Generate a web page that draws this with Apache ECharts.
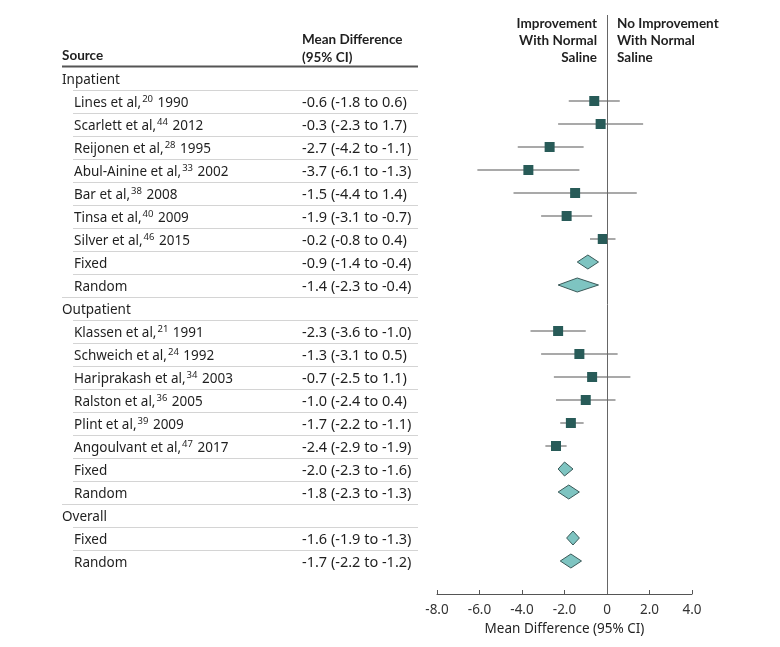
<!DOCTYPE html>
<html>
<head>
<meta charset="utf-8">
<script src="https://cdn.jsdelivr.net/npm/echarts@6/dist/echarts.min.js"></script>
<style>
html,body{margin:0;padding:0;background:#fff;}
#chart{width:780px;height:647px;}
</style>
</head>
<body>
<div id="chart"></div>
<script>
// ---------- DATA ----------
const sectionNames = ['Inpatient', 'Outpatient', 'Overall'];

const inpatientStudies = ['Lines et al,', 'Scarlett et al,', 'Reijonen et al,', 'Abul-Ainine et al,', 'Bar et al,', 'Tinsa et al,', 'Silver et al,'];
const inpatientRefs = ['20', '44', '28', '33', '38', '40', '46'];
const inpatientYears = ['1990', '2012', '1995', '2002', '2008', '2009', '2015'];
const inpatientMD = [-0.6, -0.3, -2.7, -3.7, -1.5, -1.9, -0.2];
const inpatientLo = [-1.8, -2.3, -4.2, -6.1, -4.4, -3.1, -0.8];
const inpatientHi = [0.6, 1.7, -1.1, -1.3, 1.4, -0.7, 0.4];

const outpatientStudies = ['Klassen et al,', 'Schweich et al,', 'Hariprakash et al,', 'Ralston et al,', 'Plint et al,', 'Angoulvant et al,'];
const outpatientRefs = ['21', '24', '34', '36', '39', '47'];
const outpatientYears = ['1991', '1992', '2003', '2005', '2009', '2017'];
const outpatientMD = [-2.3, -1.3, -0.7, -1.0, -1.7, -2.4];
const outpatientLo = [-3.6, -3.1, -2.5, -2.4, -2.2, -2.9];
const outpatientHi = [-1.0, 0.5, 1.1, 0.4, -1.1, -1.9];

const pooledLabels = ['Fixed', 'Random'];
const inpatientPooledMD = [-0.9, -1.4];
const inpatientPooledLo = [-1.4, -2.3];
const inpatientPooledHi = [-0.4, -0.4];
const outpatientPooledMD = [-2.0, -1.8];
const outpatientPooledLo = [-2.3, -2.3];
const outpatientPooledHi = [-1.6, -1.3];
const overallPooledMD = [-1.6, -1.7];
const overallPooledLo = [-1.9, -2.2];
const overallPooledHi = [-1.3, -1.2];

const xTicks = [-8, -6, -4, -2, 0, 2, 4];
const xAxisTitle = 'Mean Difference (95% CI)';
const leftHeader = ['Improvement', 'With Normal', 'Saline'];
const rightHeader = ['No Improvement', 'With Normal', 'Saline'];
const colHeaderSource = 'Source';
const colHeaderMD = ['Mean Difference', '(95% CI)'];

// ---------- BUILD ROWS ----------
const rows = [];
function addSection(name, studies, refs, years, md, lo, hi, pmd, plo, phi) {
  rows.push({ type: 'section', label: name });
  for (let i = 0; i < studies.length; i++) {
    rows.push({ type: 'study', label: studies[i], ref: refs[i], year: years[i], md: md[i], lo: lo[i], hi: hi[i] });
  }
  for (let i = 0; i < pooledLabels.length; i++) {
    rows.push({ type: 'pooled', label: pooledLabels[i], md: pmd[i], lo: plo[i], hi: phi[i] });
  }
}
addSection(sectionNames[0], inpatientStudies, inpatientRefs, inpatientYears, inpatientMD, inpatientLo, inpatientHi, inpatientPooledMD, inpatientPooledLo, inpatientPooledHi);
addSection(sectionNames[1], outpatientStudies, outpatientRefs, outpatientYears, outpatientMD, outpatientLo, outpatientHi, outpatientPooledMD, outpatientPooledLo, outpatientPooledHi);
addSection(sectionNames[2], [], [], [], [], [], [], overallPooledMD, overallPooledLo, overallPooledHi);
rows.forEach((r, i) => r.idx = i);

const f1 = v => v.toFixed(1);
function ciText(r) { return f1(r.md) + ' (' + f1(r.lo) + ' to ' + f1(r.hi) + ')'; }

// ---------- STYLE ----------
const FONT = '"Noto Sans", sans-serif';
const HFONT = 'Lato, "Noto Sans", sans-serif';
const FS = 13.5;
const FS_CI = 14.5;
const TXT = '#1f1f1f';
const SQUARE = '#285b58';
const DIAMOND_FILL = '#7ec4c1';
const DIAMOND_STROKE = '#3b5a59';
const CI_LINE = '#8c8c8c';
const TEXT_DY = 2;

// y mapping: row r at pixel 78 + 23 r ; grid top 15, bottom 594
const ROW0 = 78, ROWH = 23, GTOP = 15, GBOT = 594;
const yMin = (GTOP - ROW0) / ROWH, yMax = (GBOT - ROW0) / ROWH;

const chart = echarts.init(document.getElementById('chart'), null, { renderer: 'canvas' });

const studyRows = rows.filter(r => r.type === 'study');
const pooledRows = rows.filter(r => r.type === 'pooled');

const option = {
  animation: false,
  backgroundColor: '#fff',
  textStyle: { fontFamily: FONT },
  grid: [
    { left: 437, right: 88, top: GTOP, bottom: 647 - GBOT },
    { left: 62, width: 356, top: GTOP, bottom: 647 - GBOT }
  ],
  xAxis: [
    {
      gridIndex: 0, type: 'value', min: -8, max: 4, interval: 2,
      axisLine: { onZero: false, lineStyle: { color: '#555', width: 1 } },
      axisTick: { inside: true, length: 4, lineStyle: { color: '#555' } },
      splitLine: { show: false },
      axisLabel: { color: '#333', fontSize: 13.5, fontFamily: FONT, margin: 9,
        formatter: v => (xTicks.indexOf(v) < 0 ? '' : (v === 0 ? '0' : f1(v))) },
      name: xAxisTitle, nameLocation: 'middle', nameGap: 28,
      nameTextStyle: { color: TXT, fontSize: 13.5, fontFamily: FONT }
    },
    { gridIndex: 1, type: 'value', min: 0, max: 356, show: false }
  ],
  yAxis: [
    { gridIndex: 0, type: 'value', inverse: true, min: yMin, max: yMax, show: false },
    { gridIndex: 1, type: 'value', inverse: true, min: yMin, max: yMax, show: false }
  ],
  series: [
    // table
    {
      type: 'custom', xAxisIndex: 1, yAxisIndex: 1,
      data: rows.map(r => [0, r.idx]),
      renderItem: function (params, api) {
        const r = rows[params.dataIndex];
        const children = [];
        const p0 = api.coord([0, r.idx]);
        const indent = r.type === 'section' ? 0 : 12;
        let txt;
        if (r.type === 'study') {
          txt = '{n|' + r.label + '}{s|' + r.ref + '}{n| ' + r.year + '}';
        } else {
          txt = '{n|' + r.label + '}';
        }
        children.push({
          type: 'text',
          style: {
            x: p0[0] + indent, y: p0[1] + TEXT_DY, text: txt,
            verticalAlign: 'middle', align: 'left',
            rich: {
              n: { fontSize: FS, fontFamily: FONT, fill: TXT },
              s: { fontSize: 9.5, fontFamily: FONT, fill: TXT, padding: [0, 1, 8, 1] }
            }
          }
        });
        if (r.type !== 'section') {
          const pc = api.coord([240, r.idx]);
          children.push({
            type: 'text',
            style: { x: pc[0], y: pc[1] + TEXT_DY, text: ciText(r), fontSize: FS_CI, fontFamily: FONT, fill: TXT, verticalAlign: 'middle', align: 'left' }
          });
        }
        // separator below row
        const next = rows[r.idx + 1];
        if (next) {
          const full = next.type === 'section';
          const a = api.coord([full ? 0 : 11, r.idx + 0.5]);
          const b = api.coord([356, r.idx + 0.5]);
          children.push({
            type: 'line', shape: { x1: a[0], y1: Math.round(a[1]) + 0.5, x2: b[0], y2: Math.round(b[1]) + 0.5 },
            style: { stroke: '#d4d4d4', lineWidth: 1 }
          });
        }
        // header rule above first row
        if (r.idx === 0) {
          const a = api.coord([0, -0.5]);
          const b = api.coord([356, -0.5]);
          children.push({
            type: 'line', shape: { x1: a[0], y1: a[1], x2: b[0], y2: b[1] },
            style: { stroke: '#555', lineWidth: 2 }
          });
        }
        return { type: 'group', children: children };
      },
      z: 2
    },
    // CI whiskers for studies
    {
      type: 'custom', xAxisIndex: 0, yAxisIndex: 0,
      data: studyRows.map(r => [r.lo, r.hi, r.idx]),
      renderItem: function (params, api) {
        const a = api.coord([api.value(0), api.value(2)]);
        const b = api.coord([api.value(1), api.value(2)]);
        return { type: 'line', shape: { x1: a[0], y1: a[1], x2: b[0], y2: b[1] }, style: { stroke: CI_LINE, lineWidth: 1.5 } };
      },
      markLine: {
        silent: true, symbol: 'none', label: { show: false },
        lineStyle: { color: '#666', width: 1, type: 'solid' },
        data: [{ xAxis: 0 }]
      },
      z: 3
    },
    // squares
    {
      type: 'scatter', xAxisIndex: 0, yAxisIndex: 0,
      data: studyRows.map(r => [r.md, r.idx]),
      symbol: 'rect', symbolSize: 10,
      itemStyle: { color: SQUARE, opacity: 1 },
      z: 4
    },
    // diamonds
    {
      type: 'custom', xAxisIndex: 0, yAxisIndex: 0,
      data: pooledRows.map(r => [r.md, r.lo, r.hi, r.idx]),
      renderItem: function (params, api) {
        const y = api.value(3);
        const c = api.coord([api.value(0), y]);
        const l = api.coord([api.value(1), y]);
        const h = api.coord([api.value(2), y]);
        const hh = 7;
        return {
          type: 'polygon',
          shape: { points: [[l[0], c[1]], [c[0], c[1] - hh], [h[0], c[1]], [c[0], c[1] + hh]] },
          style: { fill: DIAMOND_FILL, stroke: DIAMOND_STROKE, lineWidth: 1 }
        };
      },
      z: 4
    }
  ],
  graphic: [
    { type: 'text', x: 62, y: 49, style: { text: colHeaderSource, font: 'bold 13.5px ' + HFONT, fill: TXT } },
    { type: 'text', x: 302, y: 31, style: { text: colHeaderMD.join('\n'), font: 'bold 13.5px ' + HFONT, fill: TXT, lineHeight: 17.5 } },
    { type: 'text', x: 597, y: 15, style: { text: leftHeader.join('\n'), font: 'bold 13.5px ' + HFONT, fill: TXT, lineHeight: 17, align: 'right', verticalAlign: 'top' } },
    { type: 'text', x: 617, y: 15, style: { text: rightHeader.join('\n'), font: 'bold 13.5px ' + HFONT, fill: TXT, lineHeight: 17, align: 'left', verticalAlign: 'top' } }
  ]
};
chart.setOption(option);
</script>
</body>
</html>
